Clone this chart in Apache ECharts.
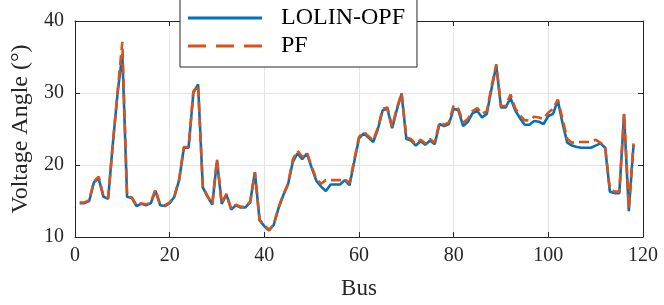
<!DOCTYPE html>
<html>
<head>
<meta charset="utf-8">
<script src="https://cdn.jsdelivr.net/npm/echarts@6/dist/echarts.min.js"></script>
<style>html,body{margin:0;padding:0;background:#fff}#c{width:664px;height:305px}</style>
</head>
<body>
<div id="c"></div>
<script>
const xTicks = [0, 20, 40, 60, 80, 100, 120];
const yTicks = [10, 20, 30, 40];
const buses = Array.from({length: 118}, (_, i) => i + 1);
const lolinOpf = [
  14.7, 14.7, 15.0, 17.6, 18.1, 15.6, 15.3, 23.0, 30.0, 35.4,
  15.6, 15.4, 14.3, 14.6, 14.4, 14.7, 16.4, 14.4, 14.3, 14.7,
  15.6, 17.9, 22.4, 22.4, 30.0, 31.2, 16.9, 15.6, 14.5, 20.6,
  14.6, 15.9, 13.8, 14.4, 14.1, 14.1, 14.8, 19.0, 12.3, 11.5,
  10.9, 11.7, 14.0, 15.8, 17.3, 20.4, 21.6, 20.8, 21.6, 19.6,
  17.8, 17.0, 16.4, 17.3, 17.3, 17.3, 17.9, 17.2, 20.5, 23.7,
  24.4, 23.8, 23.2, 25.0, 27.6, 27.8, 25.1, 27.7, 29.9, 23.6,
  23.4, 22.7, 23.3, 22.8, 23.4, 22.9, 25.7, 25.4, 25.7, 27.8,
  27.6, 25.4, 26.0, 27.2, 27.5, 26.6, 27.1, 30.6, 33.8, 28.0,
  28.0, 29.3, 27.6, 26.5, 25.6, 25.6, 26.1, 26.0, 25.7, 26.8,
  27.1, 29.0, 25.8, 23.1, 22.7, 22.5, 22.4, 22.4, 22.4, 22.7,
  23.0, 22.4, 16.3, 16.1, 16.1, 27.0, 13.6, 22.8
];
const pf = [
  14.8, 14.8, 15.1, 17.7, 18.4, 15.7, 15.4, 23.0, 30.2, 37.1,
  15.7, 15.5, 14.4, 14.7, 14.5, 14.8, 16.6, 14.5, 14.4, 14.8,
  15.7, 18.0, 22.5, 22.5, 30.2, 31.1, 17.0, 15.7, 14.6, 20.8,
  14.7, 16.0, 13.9, 14.5, 14.2, 14.2, 14.9, 19.0, 12.4, 11.6,
  11.0, 11.8, 14.1, 15.9, 17.4, 20.7, 22.0, 21.1, 21.7, 19.8,
  18.0, 17.4, 17.9, 17.9, 17.9, 17.9, 18.0, 17.5, 20.7, 23.9,
  24.6, 24.0, 23.4, 25.2, 27.8, 28.0, 25.3, 27.9, 30.0, 23.8,
  23.6, 22.9, 23.5, 23.0, 23.6, 23.1, 25.9, 25.6, 25.9, 28.3,
  27.8, 25.9, 26.4, 27.5, 27.9, 27.1, 27.5, 30.9, 34.0, 28.2,
  28.2, 29.8, 27.9, 26.9, 26.2, 26.2, 26.7, 26.6, 26.4, 27.3,
  27.8, 29.1, 26.4, 23.6, 23.1, 23.2, 23.2, 23.2, 23.2, 23.5,
  23.1, 22.6, 16.6, 16.3, 16.3, 27.1, 14.0, 23.0
];
const FONT = '"Liberation Serif", "DejaVu Serif", serif';
const SOLID_ICON = 'path://M0,0H74V3H0Z';
const DASH_ICON = 'path://M0,0H18V3H0Z M28,0H46V3H28Z M56,0H74V3H56Z';
const chart = echarts.init(document.getElementById('c'), null, {renderer: 'canvas'});
const axisLineColor = '#262626';
const gridColor = '#e3e3e3';
const baseX = {
  type: 'value', min: 0, max: 120, interval: 20,
  axisLine: {show: true, onZero: false, lineStyle: {color: axisLineColor, width: 1}},
  axisTick: {show: true, inside: true, length: 5, lineStyle: {color: axisLineColor}},
};
const baseY = {
  type: 'value', min: 10, max: 40, interval: 10,
  axisLine: {show: true, onZero: false, lineStyle: {color: axisLineColor, width: 1}},
  axisTick: {show: true, inside: true, length: 5, lineStyle: {color: axisLineColor}},
};
chart.setOption({
  animation: false,
  backgroundColor: '#fff',
  grid: {left: 75, right: 21, top: 21, bottom: 66},
  xAxis: [
    Object.assign({}, baseX, {
      position: 'bottom',
      name: 'Bus', nameLocation: 'middle', nameGap: 40,
      nameTextStyle: {fontFamily: FONT, fontSize: 23, color: '#262626'},
      axisLabel: {show: true, margin: 9, fontFamily: FONT, fontSize: 20, color: '#262626',
        formatter: v => xTicks.includes(v) ? String(v) : ''},
      splitLine: {show: true, lineStyle: {color: gridColor, width: 1}}
    }),
    Object.assign({}, baseX, {
      position: 'top', axisLabel: {show: false}, splitLine: {show: false}
    })
  ],
  yAxis: [
    Object.assign({}, baseY, {
      position: 'left',
      name: 'Voltage Angle (°)', nameLocation: 'middle', nameGap: 42,
      nameTextStyle: {fontFamily: FONT, fontSize: 24, color: '#262626'},
      axisLabel: {show: true, margin: 11, fontFamily: FONT, fontSize: 20, color: '#262626',
        formatter: v => yTicks.includes(v) ? String(v) : ''},
      splitLine: {show: true, lineStyle: {color: gridColor, width: 1}}
    }),
    Object.assign({}, baseY, {
      position: 'right', axisLabel: {show: false}, splitLine: {show: false}
    })
  ],
  legend: {
    show: true, orient: 'vertical', left: 180, top: -5,
    padding: [10, 12, 8, 8],
    itemWidth: 74, itemHeight: 14, itemGap: 2, symbolKeepAspect: true,
    backgroundColor: '#fff', borderColor: '#262626', borderWidth: 1,
    textStyle: {fontFamily: FONT, fontSize: 24, color: '#000', lineHeight: 26, padding: [0, 0, 0, 14]},
    data: [{name: 'LOLIN-OPF', icon: SOLID_ICON}, {name: 'PF', icon: DASH_ICON}]
  },
  series: [
    {
      name: 'LOLIN-OPF', type: 'line', xAxisIndex: 0, yAxisIndex: 0,
      data: buses.map((b, i) => [b, lolinOpf[i]]),
      showSymbol: false, symbol: 'none',
      lineStyle: {color: '#0072BD', width: 2.6, type: 'solid'},
      itemStyle: {color: '#0072BD'}
    },
    {
      name: 'PF', type: 'line', xAxisIndex: 0, yAxisIndex: 0,
      data: buses.map((b, i) => [b, pf[i]]),
      showSymbol: false, symbol: 'none',
      lineStyle: {color: '#D95319', width: 2.6, type: [10, 5]},
      itemStyle: {color: '#D95319'}
    }
  ]
});
</script>
</body>
</html>
